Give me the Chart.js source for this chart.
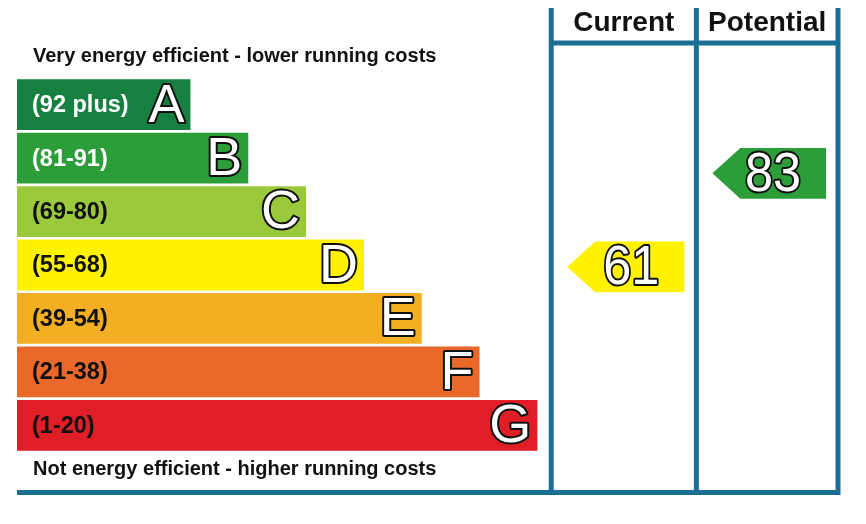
<!DOCTYPE html>
<html>
<head>
<meta charset="utf-8">
<script src="https://cdn.jsdelivr.net/npm/chart.js@4"></script>
<style>
  html, body { margin: 0; padding: 0; background: #fff; }
  #wrap { width: 866px; height: 524px; position: relative; }
</style>
</head>
<body>
<div id="wrap"><canvas id="epcChart"></canvas></div>
<script>
// energy bands, top (best) to bottom
const bands = ['A', 'B', 'C', 'D', 'E', 'F', 'G'];
const bandRanges = ['(92 plus)', '(81-91)', '(69-80)', '(55-68)', '(39-54)', '(21-38)', '(1-20)'];
const bandLow = [92, 81, 69, 55, 39, 21, 1];
const bandHigh = [100, 91, 80, 68, 54, 38, 20];
const barLengths = [3, 4, 5, 6, 7, 8, 9];

// ratings
const ratingLabels = ['Current', 'Potential'];
const ratingValues = [61, 83];

const bandColors = ['#15803f', '#2b9e3a', '#9bc93c', '#fff200', '#f3ae21', '#e9682a', '#e01e27'];
const lineColor = '#1b6f96';
const FONT = '"Liberation Sans", Arial, sans-serif';

function outlined(ctx, text, x, y, align, size, sx) {
    ctx.save();
    ctx.translate(x, y);
    ctx.scale(sx || 1, 1);
    ctx.font = size + 'px ' + FONT;
    ctx.textAlign = align;
    ctx.textBaseline = 'middle';
    ctx.lineJoin = 'round';
    ctx.lineWidth = 4;
    ctx.strokeStyle = '#111';
    ctx.strokeText(text, 0, 0);
    ctx.fillStyle = '#fff';
    ctx.fillText(text, 0, 0);
    ctx.restore();
}

const epcPlugin = {
    id: 'epc',
    afterDatasetsDraw(chart, args, opts) {
        const ctx = chart.ctx;
        const xs = chart.scales.x;
        const meta = chart.getDatasetMeta(0);
        const edges = opts.columnEdges.map(v => xs.getPixelForValue(v));

        ctx.save();
        // band range text + letters
        meta.data.forEach(function(bar, i) {
            ctx.font = 'bold 23.5px ' + FONT;
            ctx.fillStyle = i < 2 ? '#fff' : '#111';
            ctx.textAlign = 'left';
            ctx.textBaseline = 'middle';
            ctx.fillText(bandRanges[i], xs.left + 15, bar.y + 1);
            outlined(ctx, bands[i], bar.x - 6, bar.y + 2, 'right', 54);
        });

        // top / bottom captions
        ctx.font = 'bold 20px ' + FONT;
        ctx.fillStyle = '#111';
        ctx.textAlign = 'left';
        ctx.textBaseline = 'middle';
        ctx.fillText('Very energy efficient - lower running costs', xs.left + 16, 56);
        ctx.fillText('Not energy efficient - higher running costs', xs.left + 16, 469);

        // column frame
        ctx.strokeStyle = lineColor;
        ctx.lineWidth = 5;
        ctx.beginPath();
        edges.forEach(function(ex) {
            ctx.moveTo(ex, 8);
            ctx.lineTo(ex, 494);
        });
        ctx.moveTo(edges[0], 43);
        ctx.lineTo(edges[edges.length - 1], 43);
        ctx.moveTo(xs.left, 492.5);
        ctx.lineTo(edges[edges.length - 1] + 2.5, 492.5);
        ctx.stroke();

        // headers
        ctx.font = 'bold 28px ' + FONT;
        ctx.fillStyle = '#111';
        ctx.textAlign = 'center';
        ratingLabels.forEach(function(lbl, c) {
            ctx.fillText(lbl, (edges[c] + edges[c + 1]) / 2, 23);
        });

        // rating arrows
        ratingValues.forEach(function(v, c) {
            const i = bandLow.findIndex(lo => v >= lo);
            const bar = meta.data[i];
            const h = bar.height;
            const top = bar.y - h / 2;
            const cy = top + (bandHigh[i] - v) / (bandHigh[i] - bandLow[i]) * h;
            const tip = edges[c] + 16;
            const neck = edges[c] + 44;
            const right = edges[c + 1] - 12;
            ctx.fillStyle = bandColors[i];
            ctx.beginPath();
            ctx.moveTo(tip, cy);
            ctx.lineTo(neck, cy - h / 2);
            ctx.lineTo(right, cy - h / 2);
            ctx.lineTo(right, cy + h / 2);
            ctx.lineTo(neck, cy + h / 2);
            ctx.closePath();
            ctx.fill();
            outlined(ctx, String(v), right - 53, cy + 2, 'center', 56, 0.9);
        });
        ctx.restore();
    }
};

new Chart(document.getElementById('epcChart').getContext('2d'), {
    type: 'bar',
    data: {
        labels: bands,
        datasets: [{
            data: barLengths,
            backgroundColor: bandColors,
            borderWidth: 0,
            barPercentage: 0.95,
            categoryPercentage: 1
        }]
    },
    options: {
        indexAxis: 'y',
        responsive: true,
        maintainAspectRatio: false,
        animation: false,
        layout: { padding: { top: 78, bottom: 72, left: 17, right: 28 } },
        scales: {
            x: { display: false, min: 0, max: 14.2 },
            y: { display: false }
        },
        plugins: {
            legend: { display: false },
            tooltip: { enabled: false },
            epc: { columnEdges: [9.24, 11.75, 14.2] }
        }
    },
    plugins: [epcPlugin]
});
</script>
</body>
</html>
